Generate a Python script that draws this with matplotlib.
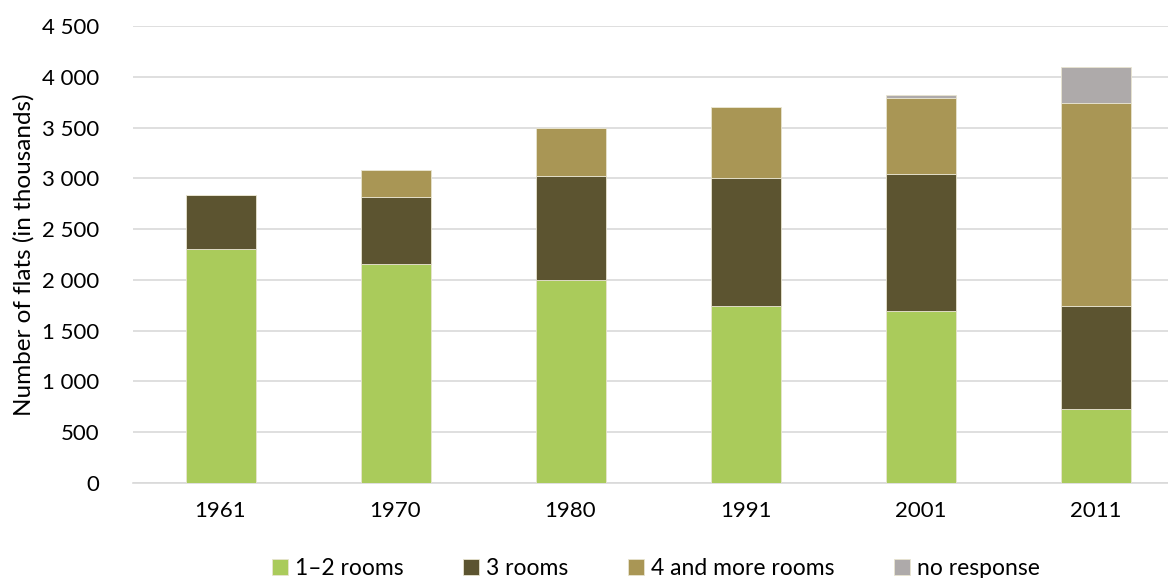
import numpy as np
import matplotlib.pyplot as plt

plt.rcParams['font.family'] = ['Lato', 'DejaVu Sans']

years = ['1961', '1970', '1980', '1991', '2001', '2011']
rooms_1_2 = [2304, 2156, 1999, 1743, 1694, 729]
rooms_3 = [532, 660, 1024, 1260, 1349, 1014]
rooms_4plus = [0, 266, 472, 699, 748, 1999]
no_response = [0, 0, 0, 0, 29, 354]

series = [
    ('1\u20132 rooms', rooms_1_2, '#aacb5b'),
    ('3 rooms', rooms_3, '#5c5430'),
    ('4 and more rooms', rooms_4plus, '#a99655'),
    ('no response', no_response, '#aeaaaa'),
]

fig = plt.figure(figsize=(11.68, 5.78), dpi=100)
ax = fig.add_axes([133 / 1168, 95 / 578, 1050 / 1168, 457 / 578])

x = np.arange(len(years))
bottom = np.zeros(len(years))
for label, vals, color in series:
    vals = np.array(vals, dtype=float)
    ax.bar(x, vals, 0.4, bottom=bottom, color=color, label=label,
           edgecolor='#e8e4d0', linewidth=0.6, zorder=3)
    bottom += vals

ax.set_xlim(-0.5, len(years) - 0.5)
ax.set_ylim(0, 4500)
ax.set_yticks(range(0, 4501, 500))
ax.set_yticklabels([f'{v:,}'.replace(',', ' ') for v in range(0, 4501, 500)])
ax.set_xticks(x)
ax.set_xticklabels(years)

ax.grid(axis='y', color='#d9d9d9', linewidth=1.2, zorder=0)
for s in ['top', 'right', 'left']:
    ax.spines[s].set_visible(False)
ax.spines['bottom'].set_color('#d9d9d9')
ax.spines['bottom'].set_linewidth(1.2)
ax.tick_params(axis='both', length=0, labelsize=16, colors='black')
ax.tick_params(axis='y', pad=24)
ax.tick_params(axis='x', pad=13)

ax.set_ylabel('Number of flats (in thousands)', fontsize=17.5, labelpad=6)

fig.legend(loc='lower center', bbox_to_anchor=(656 / 1168, -0.038), ncol=4,
           frameon=False, fontsize=16.5, handlelength=0.7, handleheight=0.7,
           handletextpad=0.3, columnspacing=2.6)

fig.savefig('out.png', dpi=100)
